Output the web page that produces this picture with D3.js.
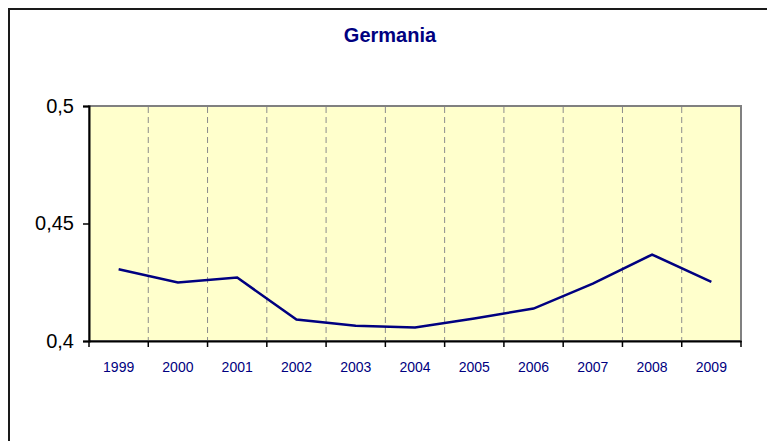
<!DOCTYPE html>
<html>
<head>
<meta charset="utf-8">
<script src="https://cdn.jsdelivr.net/npm/d3@7"></script>
<style>
  html, body { margin: 0; padding: 0; background: #ffffff; }
  svg { display: block; }
</style>
</head>
<body>
<svg id="chart" width="767" height="441"></svg>
<script>
const title = "Germania";
const years = ["1999","2000","2001","2002","2003","2004","2005","2006","2007","2008","2009"];
const values = [0.4305, 0.4249, 0.4270, 0.4091, 0.4065, 0.4057, 0.4096, 0.4138, 0.4244, 0.4368, 0.4252];
const yTicks = [0.4, 0.45, 0.5];
const yTickLabels = ["0,4", "0,45", "0,5"];

const svg = d3.select("#chart");
const W = 767, H = 441;
const plot = { left: 89, right: 741, top: 106, bottom: 341 };

// outer chart border
svg.append("rect")
  .attr("x", 9).attr("y", 9)
  .attr("width", W + 20).attr("height", H + 20)
  .attr("fill", "#ffffff")
  .attr("stroke", "#1a1a1a").attr("stroke-width", 2);

// title
svg.append("text")
  .attr("x", 390).attr("y", 42)
  .attr("text-anchor", "middle")
  .attr("font-family", "Liberation Sans, Arial, sans-serif")
  .attr("font-weight", "bold")
  .attr("font-size", 20)
  .attr("fill", "#000080")
  .text(title);

const x = d3.scaleBand().domain(years).range([plot.left, plot.right]).paddingInner(0).paddingOuter(0);
const y = d3.scaleLinear().domain([0.4, 0.5]).range([plot.bottom, plot.top]);

// plot area background
svg.append("rect")
  .attr("x", plot.left).attr("y", plot.top)
  .attr("width", plot.right - plot.left).attr("height", plot.bottom - plot.top)
  .attr("fill", "#FFFFCC")
  .attr("stroke", "#808080").attr("stroke-width", 2);

// dashed vertical gridlines at category boundaries
const boundaries = years.slice(1).map(d => x(d));
svg.append("g").selectAll("line").data(boundaries).join("line")
  .attr("x1", d => d).attr("x2", d => d)
  .attr("y1", plot.top + 1).attr("y2", plot.bottom)
  .attr("stroke", "#8c8c8c").attr("stroke-width", 1)
  .attr("stroke-dasharray", "6,4");

// y axis
const yAxis = d3.axisLeft(y).tickValues(yTicks)
  .tickFormat((d, i) => yTickLabels[i]).tickSize(6).tickPadding(9);
const gy = svg.append("g").attr("transform", `translate(${plot.left},0)`).call(yAxis);
gy.select(".domain").attr("stroke", "#000").attr("stroke-width", 2);
gy.selectAll(".tick line").attr("stroke", "#000").attr("stroke-width", 1.5);
gy.selectAll(".tick text")
  .attr("font-family", "Liberation Sans, Arial, sans-serif")
  .attr("font-size", 20).attr("fill", "#000");

// x axis
const xAxis = d3.axisBottom(x).tickSize(0).tickPadding(21);
const gx = svg.append("g").attr("transform", `translate(0,${plot.bottom})`).call(xAxis);
gx.select(".domain").attr("stroke", "#000").attr("stroke-width", 2);
gx.selectAll(".tick text")
  .attr("font-family", "Liberation Sans, Arial, sans-serif")
  .attr("font-size", 14).attr("fill", "#000080");
// tick marks at category boundaries
const allBounds = years.map(d => x(d)).concat([x(years[years.length - 1]) + x.bandwidth()]);
gx.append("g").selectAll("line").data(allBounds).join("line")
  .attr("x1", d => d).attr("x2", d => d)
  .attr("y1", 0).attr("y2", 6)
  .attr("stroke", "#000").attr("stroke-width", 1.5);

// data line
const line = d3.line()
  .x((d, i) => x(years[i]) + x.bandwidth() / 2)
  .y(d => y(d));
svg.append("path")
  .datum(values)
  .attr("d", line)
  .attr("fill", "none")
  .attr("stroke", "#000080")
  .attr("stroke-width", 2.5)
  .attr("stroke-linejoin", "miter");
</script>
</body>
</html>
